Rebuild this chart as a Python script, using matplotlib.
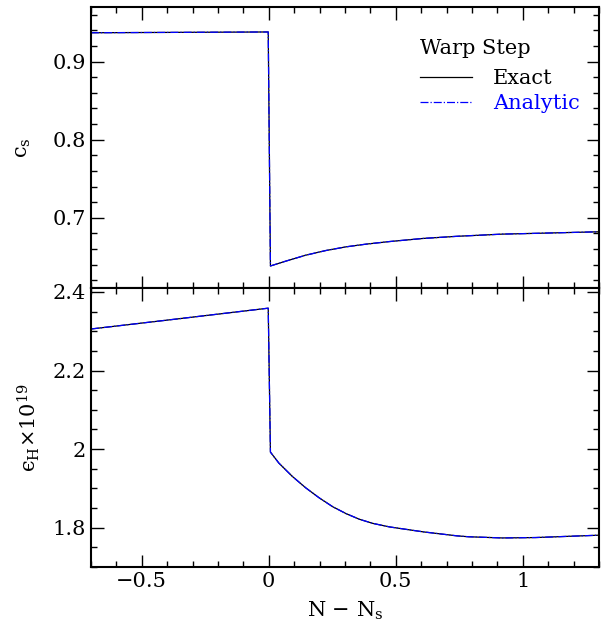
import matplotlib.pyplot as plt
from matplotlib.ticker import MultipleLocator

plt.rcParams['font.family'] = 'DejaVu Serif'
plt.rcParams['mathtext.fontset'] = 'dejavuserif'

# values
n_top = [-0.7, -0.35, -0.002, 0.0067, 0.0663, 0.1456, 0.225, 0.3044, 0.384,
         0.476, 0.609, 0.741, 0.919, 1.05, 1.3]
cs = [0.937, 0.9375, 0.938, 0.6382, 0.6443, 0.6520, 0.6580, 0.6627, 0.6662,
      0.6695, 0.6735, 0.6762, 0.679, 0.680, 0.682]

n_bot = [-0.7, -0.35, -0.002, 0.0067, 0.0397, 0.0925, 0.1456, 0.198, 0.2516,
         0.3044, 0.357, 0.41, 0.476, 0.609, 0.741, 0.787, 0.919, 1.05, 1.3]
eps = [2.3056, 2.332, 2.3586, 1.9924, 1.9646, 1.9308, 1.9015, 1.8763, 1.8535,
       1.8359, 1.8215, 1.8110, 1.8020, 1.7894, 1.7793, 1.777, 1.774, 1.775, 1.781]

fig = plt.figure(figsize=(6.1, 6.24), dpi=100)
ax1 = fig.add_axes([0.149, 0.5385, 0.833, 0.4503])
ax2 = fig.add_axes([0.149, 0.0913, 0.833, 0.4472])

for ax, x, y in [(ax1, n_top, cs), (ax2, n_bot, eps)]:
    ax.plot(x, y, color='black', lw=0.9, label='Exact')
    ax.plot(x, y, color='blue', lw=0.9, ls='-.', label='Analytic')
    ax.set_xlim(-0.7, 1.3)
    ax.xaxis.set_major_locator(MultipleLocator(0.5))
    ax.xaxis.set_minor_locator(MultipleLocator(0.1))
    ax.tick_params(which='both', direction='in', top=True, right=True, labelsize=15)
    ax.tick_params(which='major', length=9, width=1)
    ax.tick_params(which='minor', length=4.5, width=1)
    for s in ax.spines.values():
        s.set_linewidth(1.5)

ax1.set_ylim(0.61, 0.97)
ax1.yaxis.set_major_locator(MultipleLocator(0.1))
ax1.yaxis.set_minor_locator(MultipleLocator(0.02))
ax1.tick_params(labelbottom=False)
ax1.set_ylabel(r'$\mathrm{c_s}$', fontsize=15, labelpad=14)

ax2.set_ylim(1.70, 2.41)
ax2.yaxis.set_minor_locator(MultipleLocator(0.05))
ax2.set_yticks([1.8, 2.0, 2.2, 2.4])
ax2.set_yticklabels(['1.8', '2', '2.2', '2.4'])
ax2.set_xticks([-0.5, 0, 0.5, 1])
ax2.set_xticklabels(['\u22120.5', '0', '0.5', '1'])
ax2.set_ylabel('\u03f5$_{\\rm H}$\u00d710$^{19}$', fontsize=15, labelpad=8)
ax2.set_xlabel(r'N $-$ N$_{\rm s}$', fontsize=15, labelpad=6)

leg = ax1.legend(title='Warp Step', loc='upper left', bbox_to_anchor=(0.648, 0.885),
                 frameon=False, fontsize=15, title_fontsize=15, handlelength=2.5,
                 handletextpad=1.0, labelspacing=0.28, borderpad=0, borderaxespad=0,
                 labelcolor=['black', 'blue'], alignment='left')
leg._legend_box.sep = 8

plt.savefig('out.png')
